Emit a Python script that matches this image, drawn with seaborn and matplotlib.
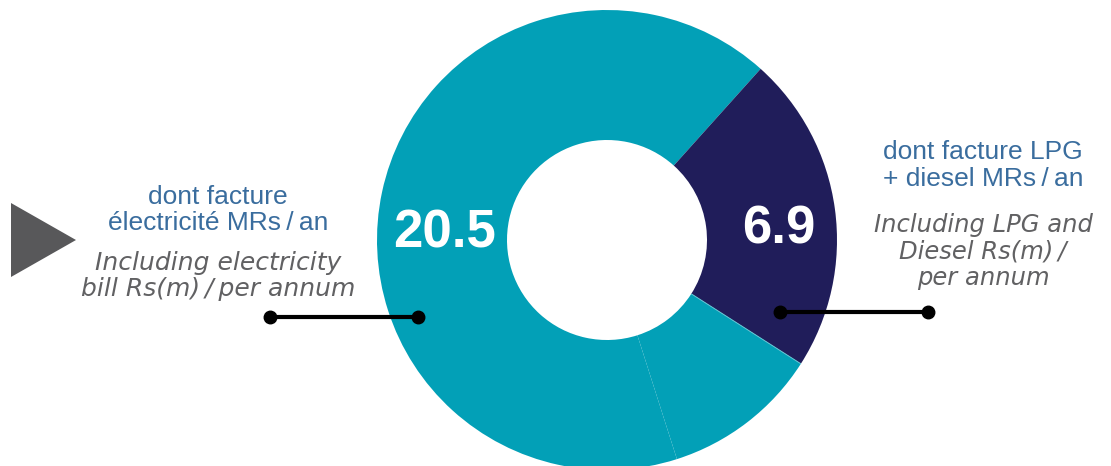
import numpy as np
import matplotlib
matplotlib.use("Agg")
import matplotlib.pyplot as plt
import seaborn as sns
from matplotlib.patches import Polygon

sns.set_theme(style="white")
plt.rcParams['font.family'] = ['Liberation Sans', 'DejaVu Sans']

# ---- data ----
categories = ["Electricity", "LPG + diesel", "Other"]
values = [20.5, 6.9, 3.4]
value_labels = ["20.5", "6.9"]
left_fr = ["dont facture", "électricité MRs\u2009/\u2009an"]
left_en = ["Including electricity", "bill Rs(m)\u2009/\u2009per annum"]
right_fr = ["dont facture LPG", "+ diesel MRs\u2009/\u2009an"]
right_en = ["Including LPG and", "Diesel Rs(m)\u2009/", "per annum"]

TEAL = "#02a0b7"
NAVY = "#201d5a"
BLUE = "#3a6d9e"
GREY = "#616163"
colors = [TEAL, NAVY, TEAL]

W, H = 1111, 466
fig = plt.figure(figsize=(W / 100, H / 100), dpi=100)
fig.patch.set_facecolor("white")

# pie axes: centre (607,240) px, radius 230 px
R = 230
cx, cy = 607, 240
ax = fig.add_axes([(cx - R) / W, (H - cy - R) / H, 2 * R / W, 2 * R / H])
wedges, _ = ax.pie(values, colors=colors, startangle=-72.3, counterclock=False,
                   radius=1, wedgeprops=dict(width=1 - 100 / 230, linewidth=0))
ax.set_xlim(-1, 1)
ax.set_ylim(-1, 1)
ax.set_aspect("equal")
ax.axis("off")
# faint separator between the two teal slices
th = np.deg2rad(wedges[2].theta2)
ri = 100 / 230
ax.plot([ri * np.cos(th), np.cos(th)], [ri * np.sin(th), np.sin(th)],
        color="#63c3d1", lw=0.7, solid_capstyle="butt")

# overlay axes in pixel coords
ov = fig.add_axes([0, 0, 1, 1], zorder=5)
ov.set_xlim(0, W)
ov.set_ylim(H, 0)
ov.axis("off")
ov.patch.set_alpha(0)

# value labels
ov.text(445, 247, value_labels[0], color="white", fontsize=38, fontweight="bold",
        ha="center", va="baseline")
ov.text(779, 243, value_labels[1], color="white", fontsize=38, fontweight="bold",
        ha="center", va="baseline")

fs_fr = 19
fs_en = 18
# left texts
for txt, yb in zip(left_fr, [204, 230]):
    ov.text(218, yb, txt, color=BLUE, fontsize=fs_fr, ha="center", va="baseline")
for txt, yb in zip(left_en, [270, 296]):
    ov.text(218, yb, txt, color=GREY, fontsize=fs_en, style="italic", ha="center",
            va="baseline", family=["DejaVu Sans"])
# right texts
for txt, yb in zip(right_fr, [159, 186]):
    ov.text(983, yb, txt, color=BLUE, fontsize=fs_fr, ha="center", va="baseline")
for txt, yb in zip(right_en, [232, 258, 285]):
    ov.text(983, yb, txt, color=GREY, fontsize=17.5, style="italic", ha="center",
            va="baseline", family=["DejaVu Sans"])

# leader lines
ov.plot([270, 418], [317, 317], color="black", lw=3, marker="o", ms=9,
        solid_capstyle="butt")
ov.plot([780, 928], [312, 312], color="black", lw=3, marker="o", ms=9,
        solid_capstyle="butt")

# decorative triangle
ov.add_patch(Polygon([[11, 203], [76, 240], [11, 277]], closed=True,
                     facecolor="#58585a", edgecolor="none"))

fig.savefig("out.png", dpi=100, facecolor="white")
